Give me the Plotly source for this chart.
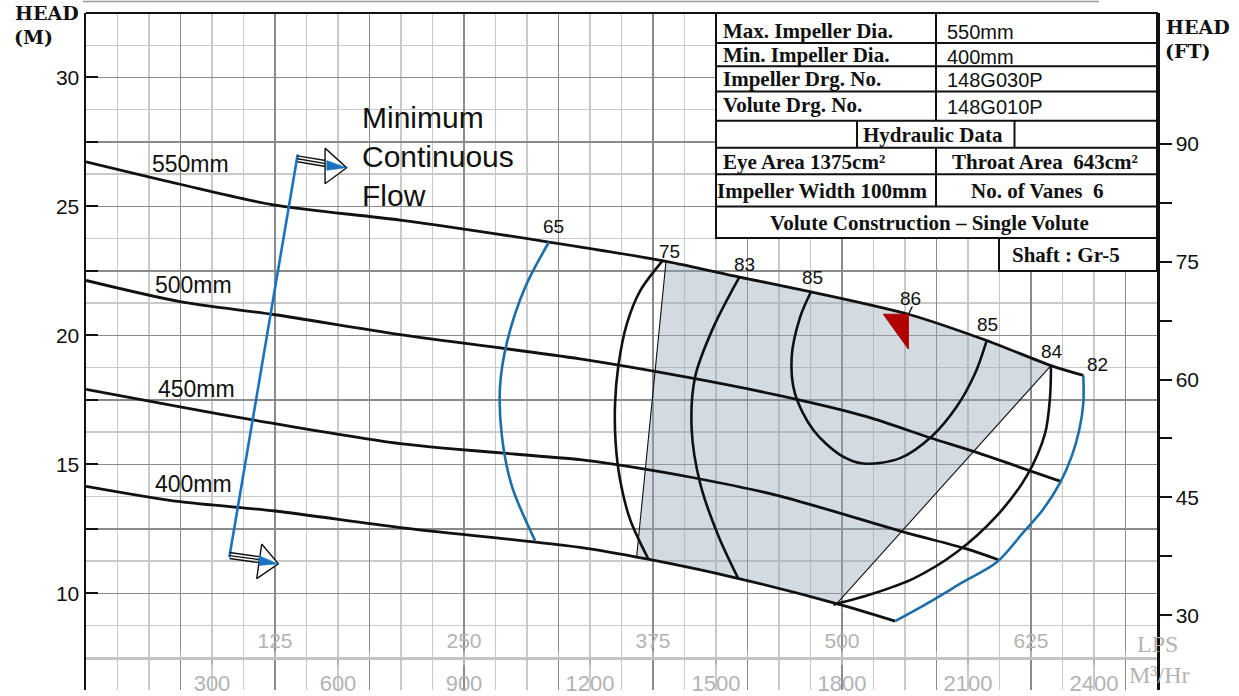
import numpy as np
import plotly.graph_objects as go

# ---------------- data (flow in LPS, head in m) ----------------
q_550 = [0, 62.2, 125, 207.7, 306.2, 383.6, 432.1, 479.5, 543.9, 595.7, 638.2, 659.6]
h_550 = [26.73, 25.86, 25.05, 24.47, 23.62, 22.87, 22.26, 21.69, 20.82, 19.80, 18.83, 18.45]

q_500 = [0, 62.2, 125, 207.7, 326.7, 402.8, 467.8, 516.3, 559.3, 586.9, 644.2]
h_500 = [22.13, 21.31, 20.80, 20.03, 19.09, 18.32, 17.55, 16.85, 16.01, 15.50, 14.35]

q_450 = [0, 62.2, 110.4, 207.7, 326.7, 351.0, 402.8, 459.0, 540.5, 582.4, 603.4]
h_450 = [17.91, 17.23, 16.72, 15.80, 15.18, 14.99, 14.47, 13.77, 12.38, 11.72, 11.30]

q_400 = [0, 62.2, 125, 207.7, 326.7, 370.8, 430.3, 498.7, 535.1]
h_400 = [14.15, 13.55, 13.19, 12.55, 11.78, 11.33, 10.59, 9.56, 8.92]

dia_labels = ["550mm", "500mm", "450mm", "400mm"]
dia_label_q = [69.4, 70.8, 72.8, 70.8]
dia_label_h = [26.63, 21.95, 17.91, 14.22]

# iso-efficiency curves
q_e65 = [306.2, 290.3, 278.4, 273.8, 275.1, 281.7, 297.0]
h_e65 = [23.62, 21.85, 19.73, 18.00, 16.08, 14.15, 12.04]
q_e75 = [381.8, 366.4, 357.6, 352.1, 349.9, 350.3, 353.2, 359.8, 371.9]
h_e75 = [22.93, 21.72, 20.43, 18.83, 17.36, 15.82, 14.41, 12.87, 11.33]
q_e83 = [432.1, 414.9, 402.8, 400.6, 406.1, 418.2, 431.4]
h_e83 = [22.26, 20.31, 18.38, 16.33, 14.28, 12.23, 10.57]
q_e85 = [479.5, 472.2, 466.7, 468.9, 481.0, 498.7, 514.1, 538.4, 559.3, 575.8, 587.9, 595.7]
h_e85 = [21.69, 20.69, 19.15, 17.74, 16.33, 15.37, 15.03, 15.24, 16.08, 17.23, 18.51, 19.80]
q_e84 = [638.2, 637.6, 634.3, 622.1, 602.3, 575.8, 547.2, 520.7, 494.3]
h_e84 = [18.83, 17.62, 16.20, 14.54, 13.00, 11.59, 10.57, 9.99, 9.56]
q_e82 = [659.6, 659.6, 656.9, 651.9, 644.2, 633.1, 619.9, 602.3, 580.2, 558.2, 535.1]
h_e82 = [18.45, 17.36, 16.33, 15.31, 14.28, 13.26, 12.36, 11.20, 10.44, 9.67, 8.92]

eff_labels = ["65", "75", "83", "85", "86", "85", "84", "82"]
eff_label_q = [308.9, 385.6, 435.4, 480.6, 545.4, 596.1, 638.7, 668.7]
eff_label_h = [24.23, 23.26, 22.74, 22.26, 21.42, 20.43, 19.38, 18.87]

# preferred operating region boundaries
zone_left_q = [383.6, 364.2]
zone_left_h = [22.87, 11.43]
zone_right_q = [638.2, 496.5]
zone_right_h = [18.83, 9.60]

# best efficiency point marker (triangle) and leader
bep_q = [527.3, 543.9, 543.9]
bep_h = [20.82, 20.82, 19.47]
bep_lead_q = [543.9, 546.5]
bep_lead_h = [20.82, 21.12]

# minimum continuous flow line and arrows
mcf_q = [140.0, 94.8]
mcf_h = [27.01, 11.40]
arrow_top_shaft_q = [139.9, 159.4]
arrow_top_shaft_h = [[26.96, 26.77], [26.85, 26.65], [26.73, 26.54]]
arrow_top_head_q = [158.1, 172.4, 158.1]
arrow_top_head_h = [27.26, 26.50, 25.88]
arrow_top_fill_q = [159.2, 172.4, 159.2]
arrow_top_fill_h = [26.78, 26.50, 26.40]
arrow_bot_shaft_q = [94.9, 114.4]
arrow_bot_shaft_h = [[11.58, 11.42], [11.46, 11.31], [11.35, 11.19]]
arrow_bot_head_q = [116.2, 127.2, 112.9]
arrow_bot_head_h = [11.91, 11.14, 10.57]
arrow_bot_fill_q = [114.4, 127.2, 114.4]
arrow_bot_fill_h = [11.46, 11.14, 11.08]
mcf_text = ["Minimum", "Continuous", "Flow"]
mcf_text_q = 181.2
mcf_text_h = [28.46, 26.92, 25.43]

# axes ticks
lps_ticks = [125, 250, 375, 500, 625]
m3h_ticks = [300, 600, 900, 1200, 1500, 1800, 2100, 2400]
head_m_ticks = [10, 15, 20, 25, 30]
head_ft_ticks = [30, 45, 60, 75, 90]

# data sheet table
table_rows = [
    ("Max. Impeller Dia.", "550mm"),
    ("Min. Impeller Dia.", "400mm"),
    ("Impeller Drg. No.", "148G030P"),
    ("Volute Drg. No.", "148G010P"),
]
hyd_title = "Hydraulic Data"
hyd_rows = [("Eye Area 1375cm²", "Throat Area\u00a0\u00a0643cm²"),
            ("Impeller Width 100mm", "No. of Vanes\u00a0\u00a06")]
volute_text = "Volute Construction \u2013 Single Volute"
shaft_text = "Shaft : Gr-5"

# ---------------- geometry helpers (layout only) ----------------
QMAX = 708.33
HMIN, HMAX = 6.25, 32.5
M_TO_FT = 3.28084
LPS_TO_M3H = 3.6
W, H = 1239, 696
PL, PR, PT, PB = 86, 1157, 13, 696   # plot area in window pixels


def pxp(px):
    return (px - PL) / (PR - PL)


def pyp(py):
    return (PB - py) / (PB - PT)


BLACK = "#111111"
BLUE = "#1d6ea6"
DARKGRID = "#8a8a8a"
LIGHTGRID = "#c9c9c9"
AXGRAY = "#b3b3b3"
SANS = "Liberation Sans, Arial, sans-serif"
SERIF = "DejaVu Serif, serif"
TSERIF = "Liberation Serif, Times New Roman, serif"

fig = go.Figure()

# shaded preferred region
poly_q = [q for q in q_550 if zone_left_q[0] <= q <= zone_right_q[0]]
poly_h = [h for q, h in zip(q_550, h_550) if zone_left_q[0] <= q <= zone_right_q[0]]
poly_q.append(zone_right_q[1])
poly_h.append(zone_right_h[1])
bot = [(q, h) for q, h in zip(q_400, h_400) if zone_left_q[1] < q < zone_right_q[1]]
for q, h in reversed(bot):
    poly_q.append(q)
    poly_h.append(h)
poly_q.append(zone_left_q[1])
poly_h.append(zone_left_h[1])
fig.add_trace(go.Scatter(x=poly_q, y=poly_h, fill="toself", mode="lines",
                         line=dict(width=0), fillcolor="rgba(150,170,186,0.42)",
                         hoverinfo="skip", showlegend=False))

# head curves
for qs, hs in [(q_550, h_550), (q_500, h_500), (q_450, h_450), (q_400, h_400)]:
    fig.add_trace(go.Scatter(x=qs, y=hs, mode="lines",
                             line=dict(color=BLACK, width=2.8, shape="spline", smoothing=0.8),
                             showlegend=False, hoverinfo="skip"))

# efficiency curves
for qs, hs, col in [(q_e65, h_e65, BLUE), (q_e75, h_e75, BLACK), (q_e83, h_e83, BLACK),
                    (q_e85, h_e85, BLACK), (q_e84, h_e84, BLACK), (q_e82, h_e82, BLUE)]:
    fig.add_trace(go.Scatter(x=qs, y=hs, mode="lines",
                             line=dict(color=col, width=2.6, shape="spline", smoothing=0.9),
                             showlegend=False, hoverinfo="skip"))

# region boundary thin lines
for qs, hs in [(zone_left_q, zone_left_h), (zone_right_q, zone_right_h)]:
    fig.add_trace(go.Scatter(x=qs, y=hs, mode="lines", line=dict(color=BLACK, width=1.1),
                             showlegend=False, hoverinfo="skip"))

# minimum continuous flow
fig.add_trace(go.Scatter(x=mcf_q, y=mcf_h, mode="lines", line=dict(color="#1b72c0", width=2.6),
                         showlegend=False, hoverinfo="skip"))
for shaft_q, shaft_hs, head_q, head_h, fill_q, fill_h in [
        (arrow_top_shaft_q, arrow_top_shaft_h, arrow_top_head_q, arrow_top_head_h, arrow_top_fill_q, arrow_top_fill_h),
        (arrow_bot_shaft_q, arrow_bot_shaft_h, arrow_bot_head_q, arrow_bot_head_h, arrow_bot_fill_q, arrow_bot_fill_h)]:
    for hs in shaft_hs:
        fig.add_trace(go.Scatter(x=shaft_q, y=hs, mode="lines", line=dict(color=BLACK, width=1.4),
                                 showlegend=False, hoverinfo="skip"))
    fig.add_trace(go.Scatter(x=head_q + [head_q[0]], y=head_h + [head_h[0]], mode="lines", fill="toself",
                             fillcolor="white", line=dict(color=BLACK, width=1.4),
                             showlegend=False, hoverinfo="skip"))
    fig.add_trace(go.Scatter(x=fill_q + [fill_q[0]], y=fill_h + [fill_h[0]], mode="lines", fill="toself",
                             fillcolor="#1b72c0", line=dict(color="#1b72c0", width=0.5),
                             showlegend=False, hoverinfo="skip"))

# BEP triangle
fig.add_trace(go.Scatter(x=bep_q + [bep_q[0]], y=bep_h + [bep_h[0]], mode="lines", fill="toself",
                         fillcolor="#b00000", line=dict(color="#b00000", width=1),
                         showlegend=False, hoverinfo="skip"))
fig.add_trace(go.Scatter(x=bep_lead_q, y=bep_lead_h, mode="lines", line=dict(color=BLACK, width=1.5),
                         showlegend=False, hoverinfo="skip"))

annotations = []
for t, q, h in zip(dia_labels, dia_label_q, dia_label_h):
    annotations.append(dict(x=q, y=h, xref="x", yref="y", text=t, showarrow=False,
                            font=dict(family=SANS, size=23, color=BLACK)))
for t, q, h in zip(eff_labels, eff_label_q, eff_label_h):
    annotations.append(dict(x=q, y=h, xref="x", yref="y", text=t, showarrow=False,
                            font=dict(family=SANS, size=19, color=BLACK)))
for t, h in zip(mcf_text, mcf_text_h):
    annotations.append(dict(x=mcf_text_q, y=h, xref="x", yref="y", text=t, showarrow=False,
                            xanchor="left", font=dict(family=SANS, size=30, color=BLACK)))

# axis titles
annotations += [
    dict(x=pxp(13), y=pyp(12.5), xref="paper", yref="paper", text="HEAD", showarrow=False,
         xanchor="left", yanchor="middle", font=dict(family=SERIF, size=19, color=BLACK, weight="bold")),
    dict(x=pxp(12), y=pyp(37), xref="paper", yref="paper", text="(M)", showarrow=False,
         xanchor="left", yanchor="middle", font=dict(family=SERIF, size=19, color=BLACK, weight="bold")),
    dict(x=pxp(1164), y=pyp(27.5), xref="paper", yref="paper", text="HEAD", showarrow=False,
         xanchor="left", yanchor="middle", font=dict(family=SERIF, size=19, color=BLACK, weight="bold")),
    dict(x=pxp(1163), y=pyp(51.5), xref="paper", yref="paper", text="(FT)", showarrow=False,
         xanchor="left", yanchor="middle", font=dict(family=SERIF, size=19, color=BLACK, weight="bold")),
    dict(x=pxp(1135), y=pyp(650), xref="paper", yref="paper", text="LPS", showarrow=False,
         xanchor="left", yanchor="middle", font=dict(family=TSERIF, size=24, color=AXGRAY)),
    dict(x=pxp(1127), y=pyp(681), xref="paper", yref="paper", text="M\u00b3/Hr", showarrow=False,
         xanchor="left", yanchor="middle", font=dict(family=TSERIF, size=24, color=AXGRAY)),
]

# table
shapes = []
TL, TR = pxp(716), 1.0
row_y = [13, 43.3, 66.7, 92.3, 121.7, 149, 175.7, 208.3, 240]
DIV = pxp(936)
shapes.append(dict(type="rect", xref="paper", yref="paper", x0=TL, x1=TR, y0=pyp(240), y1=pyp(13),
                   fillcolor="white", line=dict(color=BLACK, width=2), layer="above"))
shapes.append(dict(type="rect", xref="paper", yref="paper", x0=pxp(999), x1=TR, y0=pyp(273.3), y1=pyp(240),
                   fillcolor="white", line=dict(color=BLACK, width=2), layer="above"))
for y in row_y[1:-1]:
    shapes.append(dict(type="line", xref="paper", yref="paper", x0=TL, x1=TR, y0=pyp(y), y1=pyp(y),
                       line=dict(color=BLACK, width=2), layer="above"))
shapes.append(dict(type="line", xref="paper", yref="paper", x0=DIV, x1=DIV, y0=pyp(121.7), y1=pyp(13),
                   line=dict(color=BLACK, width=2), layer="above"))
shapes.append(dict(type="line", xref="paper", yref="paper", x0=DIV, x1=DIV, y0=pyp(208.3), y1=pyp(149),
                   line=dict(color=BLACK, width=2), layer="above"))
for xx in (857, 1014.5):
    shapes.append(dict(type="line", xref="paper", yref="paper", x0=pxp(xx), x1=pxp(xx), y0=pyp(149), y1=pyp(121.7),
                       line=dict(color=BLACK, width=2), layer="above"))
# plot top border and scan line above
shapes.append(dict(type="line", xref="paper", yref="paper", x0=0, x1=1, y0=1, y1=1,
                   line=dict(color=BLACK, width=2), layer="above"))
shapes.append(dict(type="line", xref="paper", yref="paper", x0=pxp(83), x1=pxp(1099), y0=pyp(1.5), y1=pyp(1.5),
                   line=dict(color="#9a9a9a", width=1.5), layer="above"))

TFONT = dict(family=TSERIF, size=21, color=BLACK, weight="bold")
VFONT = dict(family=SANS, size=20, color=BLACK)
lab_y = [30.7, 55, 79.5, 106]
val_y = [32.3, 57.3, 80.7, 108.3]
for (lab, val), ly, vy in zip(table_rows, lab_y, val_y):
    annotations.append(dict(x=pxp(721), y=pyp(ly), xref="paper", yref="paper", text=lab, showarrow=False,
                            xanchor="left", yanchor="middle", font=TFONT))
    annotations.append(dict(x=pxp(945), y=pyp(vy), xref="paper", yref="paper", text=val, showarrow=False,
                            xanchor="left", yanchor="middle", font=VFONT))
annotations.append(dict(x=pxp(933), y=pyp(136), xref="paper", yref="paper", text=hyd_title, showarrow=False,
                        xanchor="center", yanchor="middle", font=TFONT))
annotations.append(dict(x=pxp(721), y=pyp(163.5), xref="paper", yref="paper", text=hyd_rows[0][0],
                        showarrow=False, xanchor="left", yanchor="middle", font=TFONT))
annotations.append(dict(x=pxp(1045), y=pyp(163.5), xref="paper", yref="paper", text=hyd_rows[0][1],
                        showarrow=False, xanchor="center", yanchor="middle", font=TFONT))
annotations.append(dict(x=pxp(715), y=pyp(192.2), xref="paper", yref="paper", text=hyd_rows[1][0],
                        showarrow=False, xanchor="left", yanchor="middle", font=TFONT))
annotations.append(dict(x=pxp(1037), y=pyp(193), xref="paper", yref="paper", text=hyd_rows[1][1],
                        showarrow=False, xanchor="center", yanchor="middle", font=TFONT))
annotations.append(dict(x=pxp(929), y=pyp(224.5), xref="paper", yref="paper", text=volute_text,
                        showarrow=False, xanchor="center", yanchor="middle", font=TFONT))
annotations.append(dict(x=pxp(1066), y=pyp(257), xref="paper", yref="paper", text=shaft_text,
                        showarrow=False, xanchor="center", yanchor="middle", font=TFONT))

# axes
ygrid_vals = [10 + 2.5 * i for i in range(9)]
ygrid_text = [str(int(v)) if v in head_m_ticks else "" for v in ygrid_vals]
ft_vals = [30 + 7.5 * i for i in range(9)]
ft_text = [str(int(v)) if v in head_ft_ticks else "" for v in ft_vals]
lps_minor_vals = [62.5 * i for i in range(1, 12)]
lps_text = [str(int(v)) if v in lps_ticks else "" for v in lps_minor_vals]
P75 = (7.5 - HMIN) / (HMAX - HMIN)

fig.update_layout(
    width=W, height=H, autosize=False,
    margin=dict(l=PL, r=W - PR, t=PT, b=H - PB, pad=0),
    paper_bgcolor="white", plot_bgcolor="white",
    showlegend=False,
    xaxis=dict(range=[0, QMAX], tickmode="linear", tick0=0, dtick=62.5, showticklabels=False,
               ticks="", showgrid=True, gridcolor=DARKGRID, gridwidth=1.4, zeroline=False, showline=False,
               minor=dict(tickmode="linear", tick0=0, dtick=125 / 6, showgrid=True, gridcolor=LIGHTGRID,
                          gridwidth=1.4, ticks="")),
    xaxis2=dict(overlaying="x", anchor="free", position=P75, range=[0, QMAX], tickmode="array",
                tickvals=lps_minor_vals, ticktext=lps_text, ticklabelposition="inside", ticks="inside",
                ticklen=6, tickcolor=AXGRAY, tickwidth=1.5, showgrid=False, zeroline=False,
                showline=True, linecolor="#c4c4c4", linewidth=3.5,
                tickfont=dict(family=SANS, size=21, color=AXGRAY)),
    xaxis3=dict(overlaying="x", anchor="free", position=P75, range=[0, QMAX * LPS_TO_M3H], tickmode="array",
                tickvals=m3h_ticks, ticktext=[str(v) for v in m3h_ticks], ticks="outside", ticklen=6,
                tickcolor=AXGRAY, tickwidth=1.5, showgrid=False, zeroline=False, showline=False,
                tickfont=dict(family=SANS, size=22, color=AXGRAY)),
    yaxis=dict(range=[HMIN, HMAX], tickmode="array", tickvals=ygrid_vals, ticktext=ygrid_text,
               ticks="inside", ticklen=12, tickwidth=2, tickcolor=BLACK, showline=True, linecolor=BLACK,
               linewidth=2.5, showgrid=True, gridcolor=DARKGRID, gridwidth=1.4, zeroline=False,
               tickfont=dict(family=SANS, size=21, color=BLACK),
               minor=dict(tickmode="linear", tick0=HMIN, dtick=1.25, showgrid=True, gridcolor=LIGHTGRID,
                          gridwidth=1.4, ticks="")),
    yaxis2=dict(overlaying="y", side="right", anchor="x", range=[HMIN * M_TO_FT, HMAX * M_TO_FT],
                tickmode="array", tickvals=ft_vals, ticktext=ft_text, ticks="outside", ticklen=12,
                tickwidth=2, tickcolor=BLACK, showline=True, linecolor=BLACK, linewidth=2.5,
                showgrid=False, zeroline=False, tickfont=dict(family=SANS, size=21, color=BLACK)),
    annotations=annotations,
    shapes=shapes,
)

# invisible traces to activate the secondary axes
fig.add_trace(go.Scatter(x=[None], y=[None], xaxis="x2", yaxis="y", showlegend=False, hoverinfo="skip"))
fig.add_trace(go.Scatter(x=[None], y=[None], xaxis="x3", yaxis="y", showlegend=False, hoverinfo="skip"))
fig.add_trace(go.Scatter(x=[None], y=[None], xaxis="x", yaxis="y2", showlegend=False, hoverinfo="skip"))

# remove the default page margin so the figure fills the window exactly
fig.write_html("out.html",
               config={"displayModeBar": False, "staticPlot": True},
               post_script="document.body.style.margin='0';document.body.style.overflow='hidden';")
